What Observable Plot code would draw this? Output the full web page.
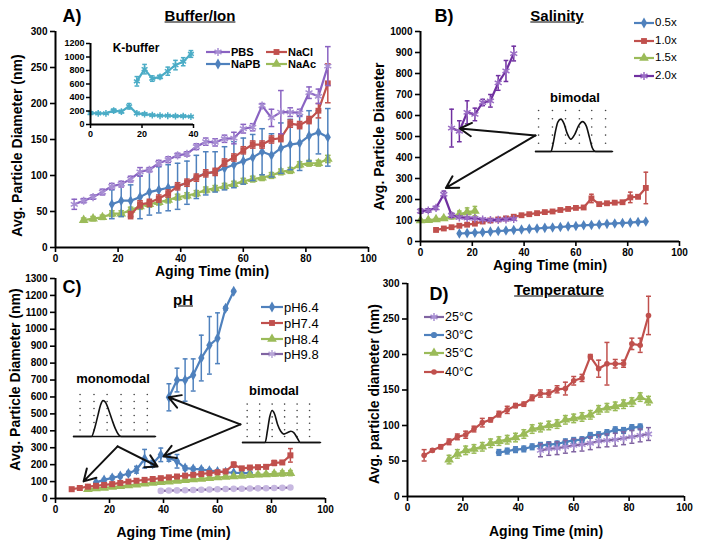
<!DOCTYPE html>
<html><head><meta charset="utf-8">
<script src="https://cdn.jsdelivr.net/npm/d3@7"></script>
<script src="https://cdn.jsdelivr.net/npm/@observablehq/plot@0.6"></script>
<style>
body{margin:0;background:#fff;}
#root{position:relative;width:704px;height:548px;overflow:hidden;font-family:'Liberation Sans',Arial,sans-serif;background:#fff;}
.abs{position:absolute;}
.lbl{position:absolute;transform:translate(-50%,-50%);white-space:nowrap;font-weight:bold;color:#000;line-height:1;}
.leg{position:absolute;white-space:nowrap;transform:translateY(-50%);color:#000;line-height:1;}
</style></head><body><div id="root"></div>
<script>
// ---------- Panel A: Buffer/Ion ----------
const A_PBS_x = [6,9,12,15,18,21,24,27,30,33,36,39,42,45,48,51,54,57,60,63,66,69,72,75,78,81,84,87];
const A_PBS_y = [60,65,70,77,85,88,95,105,108,117,122,128,130,140,147,146,151,152,165,167,197,180,188,188,187,215,210,252];
const A_PBS_e = [7,3,3,4,4,4,4,6,3,4,4,3,3,4,5,5,5,8,6,5,3,12,30,6,5,8,10,27];
const A_NaCl_x = [24,27,30,33,36,39,42,45,48,51,54,57,60,63,66,69,72,75,78,81,84,87];
const A_NaCl_y = [45,60,62,68,75,85,90,97,103,105,118,125,135,143,143,150,152,172,170,177,190,228];
const A_NaCl_e = [5,5,5,5,5,5,5,5,5,5,5,5,5,5,5,5,5,5,5,5,10,27];
const A_NaPB_x = [18,21,24,27,30,33,36,39,42,45,48,51,54,57,60,63,66,69,72,75,78,81,84,87];
const A_NaPB_y = [60,65,65,70,77,80,83,85,90,98,103,105,110,115,120,125,133,128,138,143,145,155,160,153];
const A_NaPB_e = [20,22,22,30,32,32,32,32,30,30,30,28,30,32,32,32,32,30,35,35,38,35,30,40];
const A_NaAc_x = [9,12,15,18,21,24,27,30,33,36,39,42,45,48,51,54,57,60,63,66,69,72,75,78,81,84,87];
const A_NaAc_y = [38,40,42,47,47,52,57,60,63,66,70,72,75,80,82,85,88,92,95,97,100,105,107,115,117,117,123];
const A_NaAc_e = [3,3,3,4,4,4,4,4,4,4,4,4,4,4,4,4,4,4,4,4,4,4,4,4,4,4,5];
// K-buffer inset
const K_low_x = [0,3,6,9,12,15,18,21,24,27,30,33,36,39];
const K_low_y = [170,165,165,205,190,270,165,155,140,130,130,125,125,118];
const K_low_e = [20,15,10,25,20,40,15,15,10,10,10,10,10,10];
const K_high_x = [18,21,24,27,30,33,36,39];
const K_high_y = [640,820,680,705,790,880,930,1045];
const K_high_e = [70,70,40,25,60,70,60,50];

// ---------- Panel B: Salinity ----------
const B_05_x = [15,18,21,24,27,30,33,36,39,42,45,48,51,54,57,60,63,66,69,72,75,78,81,84,87];
const B_05_y = [38,40,42,44,47,50,52,55,57,60,62,65,67,69,72,74,77,79,81,84,86,88,90,93,95];
const B_10_x = [6,9,12,15,18,21,24,27,30,33,36,39,42,45,48,51,54,57,60,63,66,69,72,75,78,81,84,87];
const B_10_y = [55,62,68,75,80,85,95,100,105,110,118,125,130,135,140,143,150,155,160,162,205,178,182,185,187,210,213,255];
const B_10_e = [5,5,5,5,5,5,5,5,5,5,5,5,5,5,5,5,5,5,5,5,20,5,5,5,5,25,8,75];
const B_15_x = [0,3,6,9,12,15,18,21];
const B_15_y = [100,102,105,110,118,130,140,145];
const B_15_e = [5,5,5,8,10,15,20,22];
const B_20low_x = [0,3,6,9,12,15,18,21,24,27,30,33,36];
const B_20low_y = [145,148,160,225,125,115,112,110,105,102,103,105,107];
const B_20low_e = [10,8,8,15,10,5,5,5,5,5,5,5,5];
const B_20high_x = [12,15,18,21,24,27,30,33,36];
const B_20high_y = [540,525,615,605,662,670,755,812,895];
const B_20high_e = [90,50,55,30,15,30,35,50,35];
// bimodal size-distribution inset (arbitrary units)
const B_dist_x = [0,2.0,2.3,2.6,2.9,3.3,3.7,4.1,4.6,5.1,5.6,6.1,6.6,7.0,7.4,7.8,10];
const B_dist_y = [0,0,0.2,0.5,0.72,0.79,0.68,0.45,0.30,0.42,0.63,0.73,0.62,0.35,0.08,0,0];
// annotation arrows (data coordinates)
const B_arrows = [{x1:44.4,y1:505,x2:15.2,y2:538},{x1:44.4,y1:505,x2:9.8,y2:255}];

// ---------- Panel C: pH ----------
const C_64low_x = [15,18,21,24,27,30,33,36,39,42,45,48,51,54,57,60,63,66,69,72];
const C_64low_y = [95,110,122,133,148,170,235,205,258,240,220,180,175,172,165,160,155,152,150,150];
const C_64low_e = [5,8,10,10,12,20,55,20,40,20,40,12,10,10,8,5,5,5,5,5];
const C_64high_x = [42,45,48,51,54,57,60,63,66];
const C_64high_y = [598,700,700,730,830,905,947,1124,1225];
const C_64high_e = [80,70,125,95,135,170,150,10,5];
const C_74_x = [6,9,12,15,18,21,24,27,30,33,36,39,42,45,48,51,54,57,60,63,66,69,72,75,78,81,84,87];
const C_74_y = [55,62,70,75,80,85,92,100,105,110,115,120,125,130,135,140,145,150,155,160,200,178,183,185,187,210,213,255];
const C_74_e = [5,5,5,5,5,5,5,5,5,5,5,5,5,5,5,5,5,5,5,5,15,5,5,5,5,15,10,40];
const C_84_x = [12,15,18,21,24,27,30,33,36,39,42,45,48,51,54,57,60,63,66,69,72,75,78,81,84,87];
const C_84_y = [55,60,63,68,72,77,82,87,92,96,100,104,108,112,116,120,124,128,130,133,137,140,142,145,148,150];
const C_84_e = [5,5,5,5,5,5,5,5,5,5,5,5,5,5,5,5,5,5,8,8,8,10,10,12,15,15];
const C_98_x = [39,42,45,48,51,54,57,60,63,66,69,72,75,78,81,84,87];
const C_98_y = [45,47,48,49,50,52,53,55,56,57,58,59,60,61,62,63,65];
const C_mono_x = [0,2.2,2.6,3.0,3.3,3.6,3.9,4.3,4.7,5.1,5.5,5.8,10];
const C_mono_y = [0,0,0.2,0.5,0.72,0.82,0.78,0.6,0.38,0.18,0.04,0,0];
const C_bi_x = [0,2.9,3.2,3.5,3.8,4.1,4.5,4.9,5.3,5.8,6.2,6.6,7.0,7.4,10];
const C_bi_y = [0,0,0.3,0.65,0.80,0.72,0.45,0.28,0.21,0.25,0.28,0.24,0.12,0,0];
const C_arrows = [
  {x1:23.0,y1:308,x2:10.4,y2:101},{x1:23.0,y1:308,x2:37.8,y2:189},
  {x1:68.5,y1:438,x2:41.9,y2:598},{x1:68.5,y1:438,x2:40.0,y2:249}
];

// ---------- Panel D: Temperature ----------
const D_25_x = [48,51,54,57,60,63,66,69,72,75,78,81,84,87];
const D_25_y = [65,67,68,70,72,73,75,78,79,80,82,84,86,88];
const D_30_x = [33,36,39,42,45,48,51,54,57,60,63,66,69,72,75,78,81,84];
const D_30_y = [62,64,66,67,70,72,73,74,77,79,80,86,87,90,94,93,97,98];
const D_35_x = [15,18,21,24,27,30,33,36,39,42,45,48,51,54,57,60,63,66,69,72,75,78,81,84,87];
const D_35_y = [52,60,65,67,70,75,78,80,83,88,95,97,100,102,108,110,112,115,122,125,127,130,133,140,135];
const D_40_x = [6,9,12,15,18,21,24,27,30,33,36,39,42,45,48,51,54,57,60,63,66,69,72,75,78,81,84,87];
const D_40_y = [58,65,70,77,84,87,95,104,108,116,122,128,130,139,145,145,151,152,163,167,197,180,187,187,187,215,213,255];
const D_40_e = [8,2,3,4,4,5,4,6,3,4,5,3,3,4,5,5,5,9,6,5,3,12,30,6,5,8,10,27];

const xTicks = [0,20,40,60,80,100];

// ---------- colours / helpers ----------
const BLUE="#4F81BD", RED="#C0504D", GREEN="#9BBB59", PURPLE="#8064A2", LPURPLE="#8A63C2", DPURPLE="#7030A0", CYAN="#4BACC6";
const FONT = "'Liberation Sans', Arial, sans-serif";
const FILLED = new Set(["diamond","square","triangle","circle"]);

function ser(xs, ys, es, color, symbol, o = {}) {
  const rows = xs.map((x, i) => ({x, y: ys[i], e: Array.isArray(es) ? es[i] : (es || 0)}));
  const cap = o.cap ?? 0.9, r = o.r ?? 3.3, mc = o.mc ?? color;
  const marks = [];
  marks.push(Plot.ruleX(rows, {x: "x", y1: d => d.y - d.e, y2: d => d.y + d.e, stroke: color, strokeWidth: 1.5}));
  marks.push(Plot.link(rows, {x1: d => d.x - cap, x2: d => d.x + cap, y1: d => d.y + d.e, y2: d => d.y + d.e, stroke: color, strokeWidth: 1.5}));
  marks.push(Plot.link(rows, {x1: d => d.x - cap, x2: d => d.x + cap, y1: d => d.y - d.e, y2: d => d.y - d.e, stroke: color, strokeWidth: 1.5}));
  marks.push(Plot.line(rows, {x: "x", y: "y", stroke: color, strokeWidth: 2.2}));
  if (FILLED.has(symbol)) marks.push(Plot.dot(rows, {x: "x", y: "y", symbol, r, fill: mc, stroke: "none"}));
  else marks.push(Plot.dot(rows, {x: "x", y: "y", symbol, r, stroke: mc, strokeWidth: 1.5}));
  return marks;
}

const baseStyle = {fontFamily: FONT, fontSize: "10px", fontWeight: "bold", background: "transparent", overflow: "visible", color: "#000"};

function mainPanel(c) {
  return Plot.plot({
    width: c.w, height: c.h, marginTop: c.mt, marginRight: c.mr, marginBottom: c.mb, marginLeft: c.ml,
    style: baseStyle,
    x: {domain: [0, 100]}, y: {domain: c.ydom},
    marks: [
      ...c.marks,
      Plot.ruleY([0], {strokeWidth: 2}),
      Plot.ruleX([0], {strokeWidth: 2}),
      Plot.axisX({ticks: xTicks, tickSize: 5, tickPadding: 2, strokeWidth: 1.6, label: null, tickFormat: d => String(d)}),
      Plot.axisY({ticks: c.yticks, tickSize: 5, tickPadding: 3, strokeWidth: 1.6, label: null, tickFormat: d => String(d)}),
      Plot.text([c.xlabel], {text: d => d, frameAnchor: "bottom", lineAnchor: "middle", textAnchor: "middle", dy: c.xdy, dx: c.xdx || 0, fontSize: 14, fontWeight: "bold"}),
      Plot.text([c.ylabel], {text: d => d, frameAnchor: "left", lineAnchor: "middle", textAnchor: "middle", rotate: -90, dx: c.ydx, dy: c.ydy || 0, fontSize: 14, fontWeight: "bold"})
    ]
  });
}

function distInset(xs, ys, gx, gy, w, h) {
  const rows = xs.map((x, i) => ({x, y: ys[i]}));
  const grid = d3.cross(gx, gy).map(([x, y]) => ({x, y}));
  return Plot.plot({
    width: w, height: h, marginTop: 4, marginRight: 4, marginBottom: 4, marginLeft: 4,
    style: {background: "transparent", overflow: "visible"},
    x: {domain: [0, 10], axis: null}, y: {domain: [0, 1.05], axis: null},
    marks: [
      Plot.dot(grid, {x: "x", y: "y", r: 0.8, fill: "#444", stroke: "none"}),
      Plot.line(rows, {x: "x", y: "y", curve: "monotone-x", stroke: "#111", strokeWidth: 1.6}),
      Plot.ruleY([0], {stroke: "#111", strokeWidth: 1.6})
    ]
  });
}

const root = document.getElementById("root");
function place(node, left, top) {
  const d = document.createElement("div");
  d.className = "abs"; d.style.left = left + "px"; d.style.top = top + "px";
  d.appendChild(node); root.appendChild(d);
}
function label(text, x, y, size, underline) {
  const d = document.createElement("div");
  d.className = "lbl"; d.textContent = text;
  d.style.left = x + "px"; d.style.top = y + "px"; d.style.fontSize = size + "px";
  if (underline) d.style.textDecoration = "underline";
  root.appendChild(d);
}
const SYM = {diamond: d3.symbolDiamond, square: d3.symbolSquare, triangle: d3.symbolTriangle, circle: d3.symbolCircle, asterisk: d3.symbolAsterisk, times: d3.symbolTimes};
function legRow(x, y, lw, color, symbol, name, size, bold, mc, r) {
  mc = mc || color; r = r || 3.3;
  const s = d3.create("svg").attr("width", lw).attr("height", 14)
    .style("position", "absolute").style("left", x + "px").style("top", (y - 7) + "px").style("overflow", "visible");
  s.append("line").attr("x1", 0).attr("x2", lw).attr("y1", 7).attr("y2", 7).attr("stroke", color).attr("stroke-width", 2.2);
  const p = s.append("path").attr("transform", `translate(${lw / 2},7)`).attr("d", d3.symbol(SYM[symbol], Math.PI * r * r)());
  if (FILLED.has(symbol)) p.attr("fill", mc); else p.attr("fill", "none").attr("stroke", mc).attr("stroke-width", 1.5);
  root.appendChild(s.node());
  const t = document.createElement("div");
  t.className = "leg"; t.textContent = name;
  t.style.left = (x + lw + 1) + "px"; t.style.top = y + "px"; t.style.fontSize = size + "px";
  t.style.fontWeight = bold ? "bold" : "normal";
  root.appendChild(t);
}

// ---------- Panel A ----------
place(mainPanel({
  w: 380, h: 280, mt: 31, mr: 12, mb: 33, ml: 55,
  ydom: [0, 300], yticks: [0,50,100,150,200,250,300],
  xlabel: "Aging Time (min)", ylabel: "Avg. Particle Diameter (nm)", xdy: 24, ydx: -38, ydy: 6,
  marks: [
    ...ser(A_NaAc_x, A_NaAc_y, A_NaAc_e, GREEN, "triangle", {r: 3.6}),
    ...ser(A_NaPB_x, A_NaPB_y, A_NaPB_e, BLUE, "diamond", {r: 3.2}),
    ...ser(A_NaCl_x, A_NaCl_y, A_NaCl_e, RED, "square", {r: 3.3}),
    ...ser(A_PBS_x, A_PBS_y, A_PBS_e, LPURPLE, "asterisk", {r: 3.8, mc: "#A88FD3"})
  ]
}), 0, 0);

// K-buffer inset
place(Plot.plot({
  width: 148, height: 105, marginTop: 8, marginRight: 10, marginBottom: 16, marginLeft: 35,
  style: {...baseStyle, fontSize: "9px"},
  x: {domain: [0, 40]}, y: {domain: [0, 1200]},
  marks: [
    ...ser(K_low_x, K_low_y, K_low_e, CYAN, "asterisk", {r: 3.2, cap: 0.9}),
    ...ser(K_high_x, K_high_y, K_high_e, CYAN, "asterisk", {r: 3.2, cap: 0.9}),
    Plot.ruleY([0], {strokeWidth: 2}),
    Plot.ruleX([0], {strokeWidth: 2}),
    Plot.axisX({ticks: [0,20,40], tickSize: 4, tickPadding: 2, strokeWidth: 1.5, label: null, tickFormat: d => String(d)}),
    Plot.axisY({ticks: [0,200,400,600,800,1000,1200], tickSize: 4, tickPadding: 2, strokeWidth: 1.5, label: null, tickFormat: d => String(d)})
  ]
}), 55, 35);
label("K-buffer", 136, 48, 12);

label("A)", 72, 16, 18);
label("Buffer/Ion", 200, 15, 15, true);
legRow(206, 52, 24, LPURPLE, "asterisk", "PBS", 11, true, "#A88FD3", 3.8);
legRow(266, 52, 21, RED, "square", "NaCl", 11, true);
legRow(206, 64, 24, BLUE, "diamond", "NaPB", 11, true);
legRow(266, 64, 21, GREEN, "triangle", "NaAc", 11, true, null, 3.6);

// ---------- Panel B ----------
place(mainPanel({
  w: 352, h: 275, mt: 31, mr: 25, mb: 34, ml: 68,
  ydom: [0, 1000], yticks: [0,100,200,300,400,500,600,700,800,900,1000],
  xlabel: "Aging Time (min)", ylabel: "Avg. Particle Diameter", xdy: 24, ydx: -41, ydy: 0,
  marks: [
    ...ser(B_05_x, B_05_y, 2, BLUE, "diamond", {r: 3.2}),
    ...ser(B_10_x, B_10_y, B_10_e, RED, "square", {r: 3.3}),
    ...ser(B_15_x, B_15_y, B_15_e, GREEN, "triangle", {r: 3.6}),
    ...ser(B_20low_x, B_20low_y, B_20low_e, DPURPLE, "asterisk", {r: 3.8, mc: "#9A6CC4"}),
    ...ser(B_20high_x, B_20high_y, B_20high_e, DPURPLE, "asterisk", {r: 3.8, mc: "#9A6CC4"}),
    Plot.arrow(B_arrows, {x1: "x1", y1: "y1", x2: "x2", y2: "y2", stroke: "#111", strokeWidth: 2, headLength: 10})
  ]
}), 352, 0);
place(distInset(B_dist_x, B_dist_y, [0.4,2.2,3.9,5.7,7.3,9.1], [0.2,0.4,0.6,0.8,1.0], 85, 51), 531, 104);
label("bimodal", 575, 97, 13);
label("B)", 444, 16, 18);
label("Salinity", 557, 15, 15, true);
legRow(634, 23, 20, BLUE, "diamond", "0.5x", 11.5, false);
legRow(634, 41, 20, RED, "square", "1.0x", 11.5, false);
legRow(634, 58, 20, GREEN, "triangle", "1.5x", 11.5, false, null, 3.6);
legRow(634, 76, 20, DPURPLE, "asterisk", "2.0x", 11.5, false, "#9A6CC4", 3.8);

// ---------- Panel C ----------
place(mainPanel({
  w: 352, h: 274, mt: 4, mr: 27, mb: 50, ml: 55,
  ydom: [0, 1300], yticks: [0,100,200,300,400,500,600,700,800,900,1000,1100,1200,1300],
  xlabel: "Aging Time (min)", ylabel: "Avg. Particle Diameter (nm)", xdy: 34, xdx: -17, ydx: -40, ydy: -9,
  marks: [
    ...ser(C_98_x, C_98_y, 3, PURPLE, "circle", {r: 3.3, mc: "#C7B8E0"}),
    ...ser(C_64low_x, C_64low_y, C_64low_e, BLUE, "diamond", {r: 3.3}),
    ...ser(C_84_x, C_84_y, C_84_e, GREEN, "triangle", {r: 3.6}),
    ...ser(C_74_x, C_74_y, C_74_e, RED, "square", {r: 3.4}),
    ...ser(C_64high_x, C_64high_y, C_64high_e, BLUE, "diamond", {r: 3.3}),
    Plot.arrow(C_arrows, {x1: "x1", y1: "y1", x2: "x2", y2: "y2", stroke: "#111", strokeWidth: 2, headLength: 10})
  ]
}), 0, 274);
place(distInset(C_mono_x, C_mono_y, [0.8,2.5,4.1,5.8,7.4,9.0], [0.15,0.32,0.48,0.64,0.8,0.96], 90, 54), 69, 386);
place(distInset(C_bi_x, C_bi_y, [0.6,2.2,3.8,5.4,7.0,8.6], [0.15,0.32,0.48,0.64,0.8,0.96], 86, 50), 238, 396);
label("monomodal", 113, 378, 13);
label("bimodal", 274, 390, 13);
label("C)", 72, 287, 18);
label("pH", 183, 299, 15, true);
legRow(261, 307, 22, BLUE, "diamond", "pH6.4", 13, false);
legRow(261, 323, 22, RED, "square", "pH7.4", 13, false);
legRow(261, 339, 22, GREEN, "triangle", "pH8.4", 13, false, null, 3.6);
legRow(261, 354, 22, PURPLE, "asterisk", "pH9.8", 13, false, "#B8A6D8", 3.8);

// ---------- Panel D ----------
place(mainPanel({
  w: 352, h: 274, mt: 9, mr: 20, mb: 52, ml: 55,
  ydom: [0, 300], yticks: [0,50,100,150,200,250,300],
  xlabel: "Aging Time (min)", ylabel: "Avg. particle diameter (nm)", xdy: 35, ydx: -33, ydy: 4,
  marks: [
    ...ser(D_35_x, D_35_y, 6, GREEN, "triangle", {r: 3.6}),
    ...ser(D_30_x, D_30_y, 4, BLUE, "circle", {r: 3.1}),
    ...ser(D_25_x, D_25_y, 9, PURPLE, "asterisk", {r: 3.8, mc: "#A88FD3"}),
    ...ser(D_40_x, D_40_y, D_40_e, RED, "circle", {r: 2.8})
  ]
}), 352, 274);
label("D)", 439, 294, 18);
label("Temperature", 559, 289, 15, true);
legRow(424, 317, 20, PURPLE, "asterisk", "25°C", 12.5, false, "#A88FD3", 3.8);
legRow(424, 335, 20, BLUE, "circle", "30°C", 12.5, false, null, 3.1);
legRow(424, 353, 20, GREEN, "triangle", "35°C", 12.5, false, null, 3.6);
legRow(424, 372, 20, RED, "circle", "40°C", 12.5, false, null, 2.8);
</script></body></html>
